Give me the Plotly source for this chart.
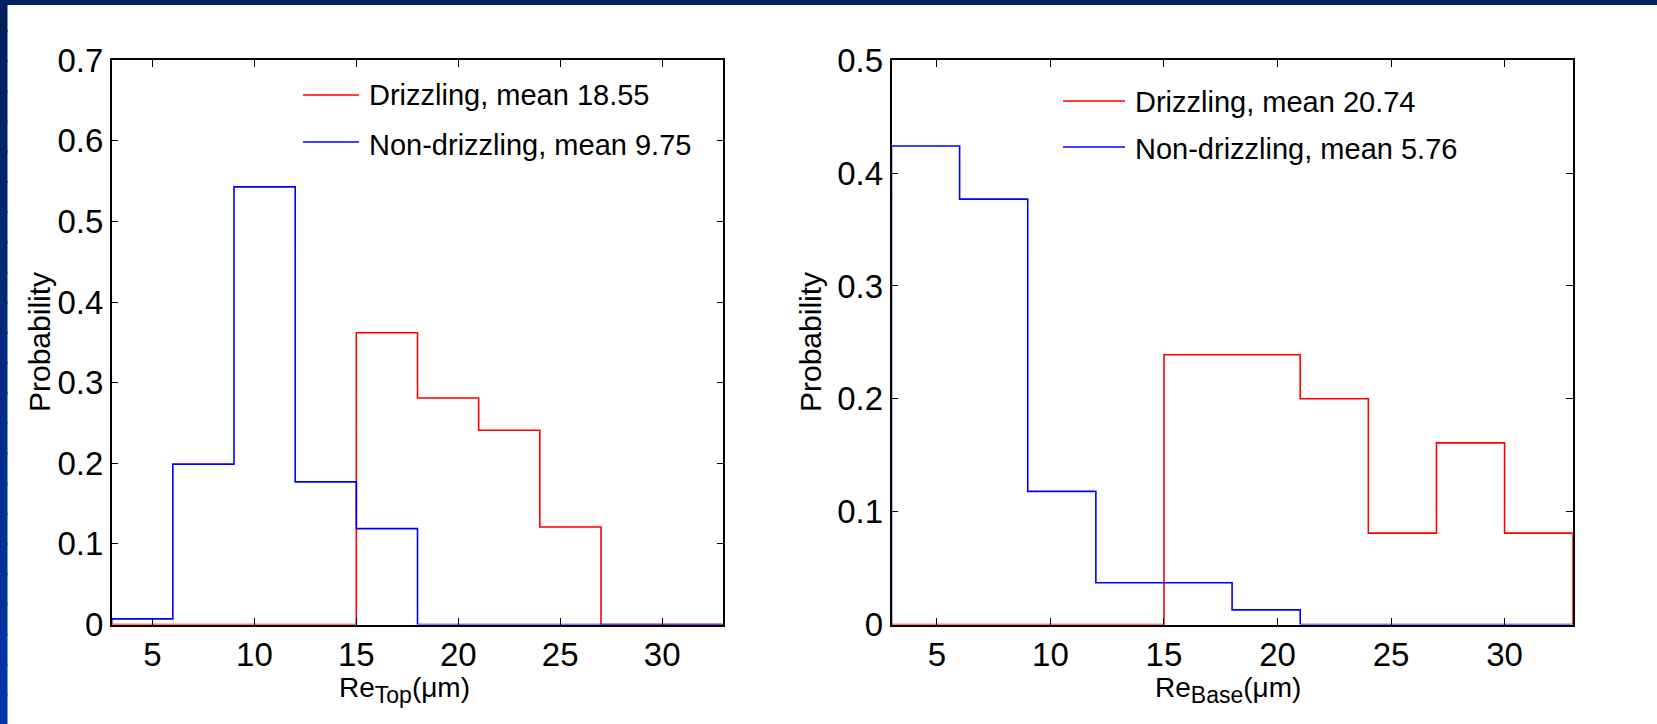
import plotly.graph_objects as go

# ---------------- data ----------------
bin_edges = [3, 6, 9, 12, 15, 18, 21, 24, 27, 30, 33]

top_drizzling = [0, 0, 0, 0, 0.362, 0.281, 0.241, 0.121, 0, 0]
top_nondrizzling = [0.007, 0.199, 0.543, 0.177, 0.119, 0, 0, 0, 0, 0]

base_drizzling = [0, 0, 0, 0, 0.239, 0.239, 0.200, 0.081, 0.161, 0.081]
base_nondrizzling = [0.424, 0.377, 0.118, 0.037, 0.037, 0.013, 0, 0, 0, 0]

top_means = {"Drizzling": 18.55, "Non-drizzling": 9.75}
base_means = {"Drizzling": 20.74, "Non-drizzling": 5.76}

x_ticks = [5, 10, 15, 20, 25, 30]
top_yticks = [0, 0.1, 0.2, 0.3, 0.4, 0.5, 0.6, 0.7]
base_yticks = [0, 0.1, 0.2, 0.3, 0.4, 0.5]

x_title_subs = ["Top", "Base"]
y_title = "Probability"

# ---------------- layout helpers ----------------
W, H = 1657, 724
FONT = "Liberation Sans, Arial, sans-serif"


def xp(px):
    return px / W


def yp(py):
    return 1 - py / H


def stairs(probs):
    xs = [bin_edges[0]] + bin_edges[:-1] + [bin_edges[-1]]
    ys = [0] + list(probs) + [0]
    return xs, ys


RED = "#ff0000"
BLUE = "#0000ff"

fig = go.Figure()

panels = [
    dict(xa="x", ya="y", red=top_drizzling, blue=top_nondrizzling),
    dict(xa="x2", ya="y2", red=base_drizzling, blue=base_nondrizzling),
]
for p in panels:
    for probs, col in ((p["red"], RED), (p["blue"], BLUE)):
        xs, ys = stairs(probs)
        fig.add_trace(go.Scatter(
            x=xs, y=ys, mode="lines", line=dict(color=col, width=1.6, shape="hv"),
            xaxis=p["xa"], yaxis=p["ya"], showlegend=False, hoverinfo="skip"))

ax_common = dict(
    showline=True, linecolor="black", linewidth=1.5, mirror="ticks",
    ticks="inside", ticklen=7, tickwidth=1, tickcolor="black",
    showgrid=False, zeroline=False, automargin=False,
    tickfont=dict(family=FONT, size=33, color="black"),
)

y_top, y_bot = 60.3, 624.5
fig.update_layout(
    width=W, height=H, margin=dict(l=0, r=0, t=0, b=0, autoexpand=False),
    paper_bgcolor="white", plot_bgcolor="white",
    xaxis=dict(domain=[xp(111.7), xp(723.3)], range=[3, 33], tickvals=x_ticks,
               anchor="y", **ax_common),
    yaxis=dict(domain=[yp(y_bot), yp(y_top)], range=[0, 0.7], tickvals=top_yticks,
               anchor="x", **ax_common),
    xaxis2=dict(domain=[xp(891.5), xp(1572.7)], range=[3, 33], tickvals=x_ticks,
                anchor="y2", **ax_common),
    yaxis2=dict(domain=[yp(y_bot), yp(y_top)], range=[0, 0.5], tickvals=base_yticks,
                anchor="x2", **ax_common),
)

# ---------------- frame (slide border) ----------------
shapes = []
shapes.append(dict(type="rect", xref="paper", yref="paper", x0=0, x1=1,
                   y0=yp(5), y1=1, fillcolor="#00215f", line_width=0, layer="above"))
n = 24
c0 = (0x00, 0x20, 0x5c)
c1 = (0x00, 0x36, 0xa6)
for i in range(n):
    t = i / (n - 1)
    c = tuple(round(a + (b - a) * t) for a, b in zip(c0, c1))
    shapes.append(dict(type="rect", xref="paper", yref="paper", x0=0, x1=xp(7.5),
                       y0=yp(min(H, H * (i + 1) / n + 2)), y1=yp(H * i / n),
                       fillcolor="rgb(%d,%d,%d)" % c, line_width=0, layer="above"))

annotations = []

# ---------------- legends (drawn manually) ----------------
# (means, line x0, line x1, text x, line ys, text ys)
legend_specs = [
    (top_means, 303, 359, 367, [95, 142], [95, 145]),
    (base_means, 1063, 1125, 1133, [101, 147], [102, 149]),
]
for means, lx0, lx1, tx, lys, tys in legend_specs:
    for (name, m), col, ly, ty in zip(means.items(), (RED, BLUE), lys, tys):
        shapes.append(dict(type="line", xref="paper", yref="paper",
                           x0=xp(lx0), x1=xp(lx1), y0=yp(ly), y1=yp(ly),
                           line=dict(color=col, width=1.3)))
        annotations.append(dict(xref="paper", yref="paper", x=xp(tx), y=yp(ty),
                                xanchor="left", yanchor="middle", showarrow=False,
                                text=f"{name}, mean {m:.2f}",
                                font=dict(family=FONT, size=29, color="black")))

# ---------------- axis titles ----------------
for cx in (40, 811):
    annotations.append(dict(xref="paper", yref="paper", x=xp(cx), y=yp(342),
                            xanchor="center", yanchor="middle", showarrow=False,
                            textangle=-90, text=y_title,
                            font=dict(family=FONT, size=30, color="black")))
for cx, sub in zip((404, 1228), x_title_subs):
    t = f'Re<sub><span style="font-size:23px">{sub}</span></sub>(μm)'
    annotations.append(dict(xref="paper", yref="paper", x=xp(cx), y=yp(690),
                            xanchor="center", yanchor="middle", showarrow=False,
                            text=t, font=dict(family=FONT, size=28, color="black")))

fig.update_layout(shapes=shapes, annotations=annotations)

fig.write_html("out.html")
